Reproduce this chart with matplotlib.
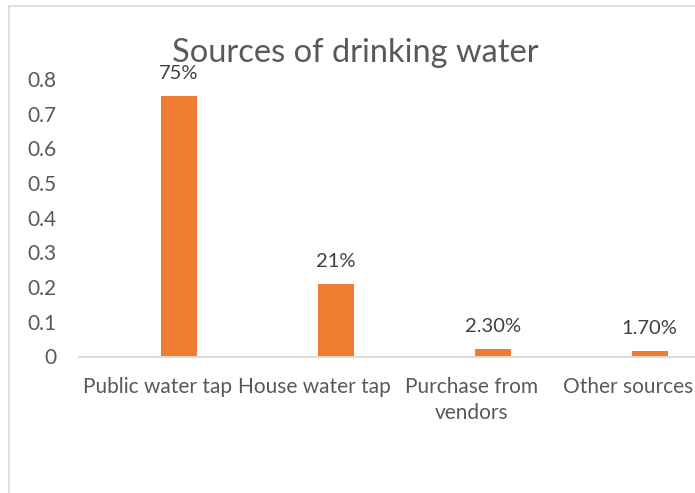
import matplotlib
matplotlib.use("Agg")
import matplotlib.pyplot as plt
from matplotlib.patches import Rectangle

categorias = ["Public water tap", "House water tap", "Purchase from\nvendors", "Other sources"]
valores = [0.75, 0.21, 0.023, 0.017]
rotulos = ["75%", "21%", "2.30%", "1.70%"]
y_ticks = [0, 0.1, 0.2, 0.3, 0.4, 0.5, 0.6, 0.7, 0.8]

plt.rcParams["font.family"] = ["Lato", "DejaVu Sans"]

fig = plt.figure(figsize=(6.95, 4.93), dpi=100)
ax = fig.add_axes([79 / 695, 1 - 356.5 / 493, 628 / 695, (356.5 - 79) / 493])

# moldura do grafico (cortada a direita e embaixo)
fig.patches.append(Rectangle((8.5 / 695, -0.1), 2, 1 - 6.5 / 493 + 0.1,
                             transform=fig.transFigure, fill=False,
                             edgecolor="#D9D9D9", linewidth=1.2))

x = list(range(len(categorias)))
desloc = 0.135
barras = ax.bar([i + desloc for i in x], valores, width=0.23, color="#ED7D31")

for b, r in zip(barras, rotulos):
    ax.annotate(r, (b.get_x() + b.get_width() / 2, b.get_height()),
                xytext=(0, 10), textcoords="offset points",
                ha="center", va="bottom", fontsize=14.5, color="#404040")

ax.set_xlim(-0.5, 3.5)
ax.set_ylim(0, 0.8)
ax.set_yticks(y_ticks)
ax.set_yticklabels(["0" if v == 0 else f"{v:.1f}" for v in y_ticks])
ax.set_xticks(x)
ax.set_xticklabels(categorias, linespacing=1.35)

ax.tick_params(axis="both", length=0, labelsize=15, labelcolor="#595959")
ax.tick_params(axis="y", pad=16)
ax.tick_params(axis="x", pad=15)

for s in ["top", "right", "left"]:
    ax.spines[s].set_visible(False)
ax.spines["bottom"].set_color("#D9D9D9")
ax.spines["bottom"].set_linewidth(1.3)

fig.text(355.5 / 695, 1 - 62 / 493, "Sources of drinking water", ha="center", va="baseline",
         fontsize=23.5, color="#595959")

fig.savefig("out.png", dpi=100)
